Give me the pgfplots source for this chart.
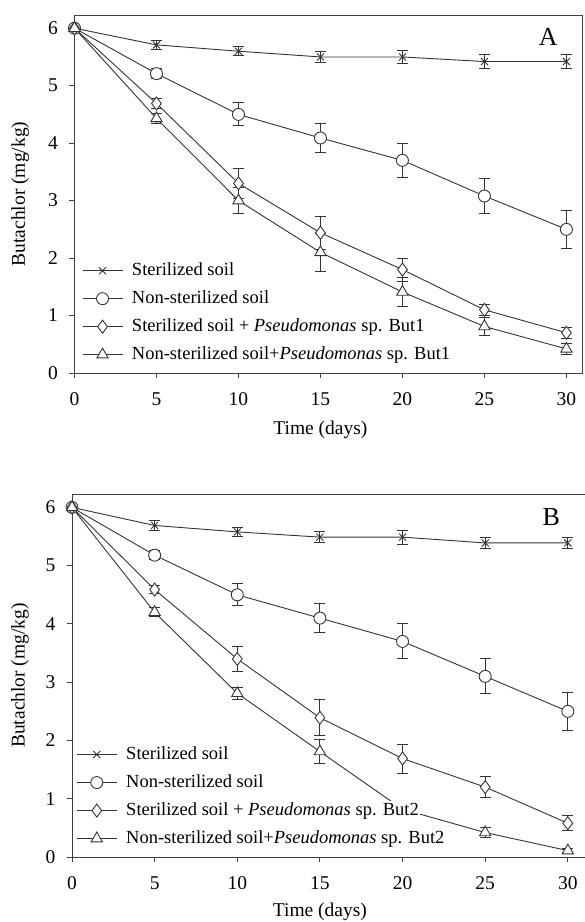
\documentclass[border=0pt]{standalone}
\usepackage{fontspec}
\setmainfont{Liberation Serif}
\usepackage{pgfplots}
\pgfplotsset{compat=1.18}
\begin{document}
\begin{tikzpicture}
\path[use as bounding box] (0pt,0pt) rectangle (585pt,-922pt);
\pgfplotsset{
  panel/.style={
    scale only axis,
    xmin=0, ymin=0, ymax=6.23,
    xtick={0,5,...,30}, ytick={0,1,...,6},
    axis line style={draw=black!75, line width=0.9pt},
    tick align=outside, tick pos=left,
    major tick length=5pt,
    tick style={black!75, line width=0.9pt},
    ticklabel style={font=\fontsize{19.5}{22}\selectfont, /pgf/number format/assume math mode=true},
    xticklabel style={yshift=-11pt},
    yticklabel style={xshift=-8pt},
    xlabel={Time (days)}, ylabel={Butachlor (mg/kg)},
    legend cell align=left,
    legend style={draw=none, fill=none, inner sep=0pt, anchor=south west,
      font=\fontsize{18.5}{22}\selectfont, row sep=9pt, column sep=8pt,
      nodes={fill=white, inner sep=1pt, text height=13pt, text depth=4pt}},
    legend image code/.code={\draw[mark repeat=2, mark phase=2] plot coordinates {(0pt,0pt) (20pt,0pt) (40pt,0pt)};},
    error bars/y dir=both, error bars/y explicit,
    error bars/error mark options={rotate=90, mark size=5.5pt, line width=0.9pt, black!80},
    error bars/error bar style={line width=0.9pt, black!80},
  },
  ser/.style={black!80, line width=0.9pt, mark options={fill=white, solid}},
  sx/.style={ser, mark=x, mark size=5pt},
  so/.style={ser, mark=*, mark size=6pt},
  sd/.style={ser, mark=diamond*, mark size=6.5pt},
  st/.style={ser, mark=triangle*, mark size=6.5pt},
}

% ---------------- panel A
\begin{axis}[panel, at={(74.5pt,-373pt)}, anchor=south west, width=507.5pt, height=358pt, xmax=30.95,
  every axis x label/.style={at={(axis description cs:0.4846,-0.159)}, anchor=center, font=\fontsize{19.5}{23}\selectfont},
  every axis y label/.style={at={(axis description cs:-0.107,0.5)}, rotate=90, anchor=center, font=\fontsize{19.5}{23}\selectfont},
  legend style={at={(axis cs:0.45,0.15)}}]
\addplot[sx] coordinates {(0,6) +- (0,0) (5,5.71) +- (0,0.08) (10,5.6) +- (0,0.08) (15,5.5) +- (0,0.1) (20,5.5) +- (0,0.12) (25,5.42) +- (0,0.12) (30,5.42) +- (0,0.12)};
\addplot[so] coordinates {(0,6) +- (0,0) (5,5.21) +- (0,0.09) (10,4.5) +- (0,0.2) (15,4.09) +- (0,0.25) (20,3.7) +- (0,0.3) (25,3.08) +- (0,0.31) (30,2.5) +- (0,0.33)};
\addplot[sd] coordinates {(0,6) +- (0,0) (5,4.69) +- (0,0.08) (10,3.3) +- (0,0.26) (15,2.44) +- (0,0.29) (20,1.8) +- (0,0.2) (25,1.1) +- (0,0.1) (30,0.7) +- (0,0.1)};
\addplot[st] coordinates {(0,6) +- (0,0) (5,4.43) +- (0,0.09) (10,3.0) +- (0,0.23) (15,2.1) +- (0,0.33) (20,1.41) +- (0,0.25) (25,0.81) +- (0,0.16) (30,0.42) +- (0,0.1)};
\legend{Sterilized soil, Non-sterilized soil, Sterilized soil + \textit{Pseudomonas} sp. But1, Non-sterilized soil+\textit{Pseudomonas} sp. But1}
\node[font=\fontsize{26}{30}\selectfont] at (axis cs:28.9,5.84) {A};
\end{axis}

% ---------------- panel B
\begin{axis}[panel, at={(72pt,-857pt)}, anchor=south west, width=515pt, height=363pt, xmax=31.16,
  every axis x label/.style={at={(axis description cs:0.4814,-0.1515)}, anchor=center, font=\fontsize{19.5}{23}\selectfont},
  every axis y label/.style={at={(axis description cs:-0.101,0.5)}, rotate=90, anchor=center, font=\fontsize{19.5}{23}\selectfont},
  legend style={at={(axis cs:0.25,0.15)}}]
\addplot[sx] coordinates {(0,6) +- (0,0) (5,5.69) +- (0,0.08) (10,5.58) +- (0,0.08) (15,5.49) +- (0,0.1) (20,5.49) +- (0,0.12) (25,5.39) +- (0,0.1) (30,5.39) +- (0,0.1)};
\addplot[so] coordinates {(0,6) +- (0,0) (5,5.18) +- (0,0.08) (10,4.5) +- (0,0.19) (15,4.1) +- (0,0.25) (20,3.7) +- (0,0.3) (25,3.1) +- (0,0.3) (30,2.5) +- (0,0.33)};
\addplot[sd] coordinates {(0,6) +- (0,0) (5,4.59) +- (0,0.07) (10,3.4) +- (0,0.21) (15,2.39) +- (0,0.31) (20,1.69) +- (0,0.25) (25,1.2) +- (0,0.18) (30,0.58) +- (0,0.13)};
\addplot[st] coordinates {(0,6) +- (0,0) (5,4.2) +- (0,0.08) (10,2.81) +- (0,0.1) (15,1.81) +- (0,0.2) (20,0.82) +- (0,0.14) (25,0.42) +- (0,0.09) (30,0.11) +- (0,0.03)};
\legend{Sterilized soil, Non-sterilized soil, Sterilized soil + \textit{Pseudomonas} sp. But2, Non-sterilized soil+\textit{Pseudomonas} sp. But2}
\node[font=\fontsize{26}{30}\selectfont] at (axis cs:29.0,5.83) {B};
\end{axis}
\end{tikzpicture}
\end{document}
